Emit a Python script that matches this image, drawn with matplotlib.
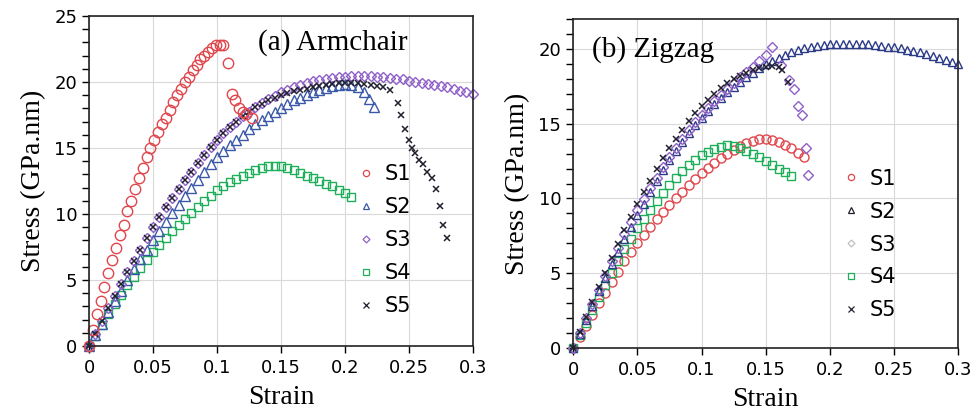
import numpy as np
import matplotlib
matplotlib.use("Agg")
import matplotlib.pyplot as plt
from matplotlib.ticker import MultipleLocator, FuncFormatter
from matplotlib.lines import Line2D

STEP = 0.005      # strain increment of the sampled curves
STEP_S1A = 0.003  # armchair S1 is sampled finer

# ---- (a) Armchair ----
arm_s1 = [0, 1.2, 2.4, 3.4, 4.5, 5.5, 6.5, 7.4, 8.4, 9.2, 10.2, 11.0, 11.9, 12.7, 13.5,
          14.3, 15.0, 15.6, 16.2, 16.8, 17.3, 17.9, 18.5, 19.0, 19.5, 20.0, 20.4, 20.9,
          21.3, 21.7, 22.0, 22.3, 22.6, 22.8, 22.8, 22.8]
arm_s1_tail_x = [0.109, 0.112, 0.114, 0.117, 0.120, 0.123, 0.127]
arm_s1_tail_y = [21.4, 19.1, 18.6, 18.0, 17.7, 17.6, 17.3]

arm_s2 = [0, 0.85, 1.7, 2.55, 3.4, 4.2, 5.0, 5.8, 6.6, 7.3, 8.0, 8.7, 9.4, 10.05, 10.7,
          11.35, 12.0, 12.6, 13.2, 13.75, 14.3, 14.75, 15.2, 15.6, 16.0, 16.4, 16.8, 17.1,
          17.4, 17.7, 18.0, 18.3, 18.6, 18.8, 19.0, 19.2, 19.4, 19.55, 19.7, 19.8, 19.85]
arm_s2_tail_x = [0.205, 0.21, 0.215, 0.219, 0.223]
arm_s2_tail_y = [19.8, 19.6, 19.2, 18.7, 18.1]

arm_s3 = [0, 0.95, 1.9, 2.85, 3.8, 4.7, 5.6, 6.45, 7.3, 8.15, 9.0, 9.75, 10.5, 11.2, 11.9,
          12.55, 13.2, 13.85, 14.5, 15.05, 15.6, 16.1, 16.6, 17.0, 17.4, 17.75, 18.1, 18.4,
          18.7, 18.95, 19.2, 19.4, 19.6, 19.75, 19.9, 20.05, 20.15, 20.25, 20.3, 20.35,
          20.4, 20.45, 20.45, 20.45, 20.45, 20.4, 20.4, 20.3, 20.25, 20.2, 20.1, 20.0,
          19.95, 19.85, 19.8, 19.7, 19.6, 19.5, 19.35, 19.25, 19.1]

arm_s4 = [0, 0.8, 1.6, 2.4, 3.2, 3.9, 4.6, 5.25, 5.9, 6.5, 7.1, 7.65, 8.2, 8.7, 9.2, 9.65,
          10.1, 10.55, 11.0, 11.4, 11.8, 12.1, 12.4, 12.65, 12.9, 13.1, 13.3, 13.45, 13.6,
          13.65, 13.6, 13.45, 13.3, 13.1, 12.9, 12.7, 12.5, 12.3, 12.1, 11.85, 11.6, 11.3]

arm_s5 = [0, 0.95, 1.9, 2.85, 3.8, 4.7, 5.6, 6.45, 7.3, 8.15, 9.0, 9.75, 10.5, 11.2, 11.9,
          12.55, 13.2, 13.85, 14.5, 15.05, 15.6, 16.1, 16.6, 17.0, 17.4, 17.75, 18.1, 18.35,
          18.6, 18.8, 19.0, 19.15, 19.3, 19.4, 19.5, 19.6, 19.7, 19.8, 19.85, 19.9, 19.9,
          19.9, 19.9, 19.85, 19.8, 19.7, 19.6, 19.4]
arm_s5_tail_x = [0.2415, 0.244, 0.247, 0.25, 0.2525, 0.255, 0.258, 0.261, 0.2645, 0.268,
                 0.271, 0.274, 0.2765, 0.2795]
arm_s5_tail_y = [18.4, 17.5, 16.4, 15.6, 15.0, 14.6, 14.1, 13.8, 13.2, 12.7, 11.9, 10.6,
                 9.2, 8.2]

# ---- (b) Zigzag ----
zig_s1 = [0, 0.75, 1.5, 2.25, 3.0, 3.7, 4.4, 5.1, 5.8, 6.4, 7.0, 7.55, 8.1, 8.6, 9.1, 9.55,
          10.0, 10.45, 10.9, 11.3, 11.7, 12.05, 12.4, 12.7, 13.0, 13.25, 13.5, 13.7, 13.85,
          14.0, 14.0, 13.9, 13.75, 13.55, 13.35, 13.05, 12.75]

zig_s2 = [0, 0.95, 1.9, 2.85, 3.8, 4.7, 5.6, 6.45, 7.3, 8.1, 8.9, 9.65, 10.4, 11.15, 11.9,
          12.55, 13.2, 13.8, 14.4, 14.9, 15.4, 15.85, 16.3, 16.7, 17.1, 17.45, 17.8, 18.1,
          18.4, 18.7, 18.95, 19.2, 19.4, 19.6, 19.8, 19.95, 20.05, 20.15, 20.2, 20.25, 20.3,
          20.33, 20.35, 20.35, 20.35, 20.33, 20.3, 20.25, 20.2, 20.15, 20.1, 20.03, 19.95,
          19.85, 19.75, 19.63, 19.5, 19.38, 19.25, 19.1, 18.95]

zig_s3 = [0, 1.0, 2.0, 2.95, 3.9, 4.85, 5.8, 6.7, 7.6, 8.4, 9.2, 9.95, 10.7, 11.4, 12.1,
          12.75, 13.4, 14.0, 14.6, 15.1, 15.6, 16.05, 16.5, 16.9, 17.3, 17.7, 18.1, 18.45,
          18.8, 19.2, 19.6, 20.1]
zig_s3_tail_x = [0.162, 0.168, 0.172, 0.175, 0.178, 0.181, 0.183]
zig_s3_tail_y = [18.9, 17.9, 17.3, 16.2, 15.6, 13.4, 11.6]

zig_s4 = [0, 0.85, 1.7, 2.55, 3.4, 4.2, 5.0, 5.8, 6.6, 7.3, 8.0, 8.6, 9.2, 9.8, 10.35, 10.9,
          11.4, 11.85, 12.25, 12.6, 12.9, 13.1, 13.3, 13.45, 13.55, 13.5, 13.4, 13.2, 13.0,
          12.75, 12.5, 12.25, 12.0, 11.75, 11.5]

zig_s5 = [0, 1.05, 2.1, 3.1, 4.1, 5.05, 6.0, 6.95, 7.9, 8.75, 9.6, 10.4, 11.2, 11.95, 12.7,
          13.35, 14.0, 14.6, 15.2, 15.7, 16.2, 16.6, 17.0, 17.35, 17.7, 17.95, 18.2, 18.4,
          18.6, 18.7, 18.8, 18.85, 18.8]
zig_s5_tail_x = [0.163, 0.167]
zig_s5_tail_y = [18.6, 17.8]

labels = ["S1", "S2", "S3", "S4", "S5"]
RED = "#e0474c"
BLUE = "#3a58a8"
NAVY = "#2b3a88"
PURPLE = "#9060c8"
GREEN = "#1fae5a"
BLACK = "#20202e"


def series(y, step=STEP, tail_x=(), tail_y=()):
    x = np.arange(len(y)) * step
    return np.r_[x, tail_x], np.r_[y, tail_y]


def style_axes(ax, ymax):
    ax.set_xlim(0, 0.3)
    ax.set_ylim(0, ymax)
    ax.xaxis.set_major_locator(MultipleLocator(0.05))
    ax.yaxis.set_major_locator(MultipleLocator(5))
    ax.yaxis.set_minor_locator(MultipleLocator(1))
    ax.xaxis.set_major_formatter(FuncFormatter(lambda v, p: "%g" % round(v, 3)))
    ax.grid(True, which="major", color="#d9d9d9", linewidth=0.8)
    ax.set_axisbelow(True)
    ax.tick_params(which="both", direction="out", length=5, width=1.0, labelsize=13)
    ax.tick_params(axis="x", pad=4)
    for sp in ax.spines.values():
        sp.set_linewidth(1.2)
        sp.set_color("#222222")
    ax.set_xlabel("Strain", family="Liberation Serif", fontsize=20, labelpad=6)
    ax.set_ylabel("Stress (GPa.nm)", family="Liberation Serif", fontsize=20, labelpad=6)


def draw(ax, x, y, marker, color, size, mew=1.0):
    ax.plot(x, y, linestyle="none", marker=marker, markersize=size,
            markerfacecolor="none", markeredgecolor=color, markeredgewidth=mew,
            clip_on=False)


def add_legend(ax, specs, anchor):
    handles = [Line2D([], [], linestyle="none", marker=m, markersize=s,
                      markerfacecolor="none", markeredgecolor=c, markeredgewidth=0.9)
               for m, c, s in specs]
    ax.legend(handles, labels, loc="upper left", bbox_to_anchor=anchor, frameon=False,
              fontsize=15, labelspacing=0.62, handlelength=0.8, handletextpad=0.5,
              borderpad=0, borderaxespad=0)


fig = plt.figure(figsize=(9.73, 4.18), dpi=100)
ax1 = fig.add_axes([0.0915, 0.172, 0.3945, 0.79])
ax2 = fig.add_axes([0.589, 0.167, 0.396, 0.788])

# (a) Armchair
draw(ax1, *series(arm_s4), "s", GREEN, 6)
draw(ax1, *series(arm_s2, tail_x=arm_s2_tail_x, tail_y=arm_s2_tail_y), "^", BLUE, 6.5)
draw(ax1, *series(arm_s3), "D", PURPLE, 5)
draw(ax1, *series(arm_s5, tail_x=arm_s5_tail_x, tail_y=arm_s5_tail_y), "x", BLACK, 4.5, 1.1)
draw(ax1, *series(arm_s1, STEP_S1A, arm_s1_tail_x, arm_s1_tail_y), "o", RED, 7.5)
style_axes(ax1, 25)
ax1.text(0.44, 0.918, "(a) Armchair", transform=ax1.transAxes, va="center",
         family="Liberation Serif", fontsize=21)
add_legend(ax1, [("o", RED, 4.5), ("^", BLUE, 4.5), ("D", PURPLE, 3.5),
                 ("s", GREEN, 4), ("x", BLACK, 4)], (0.70, 0.55))

# (b) Zigzag
draw(ax2, *series(zig_s1), "o", RED, 6.5)
draw(ax2, *series(zig_s4), "s", GREEN, 6)
draw(ax2, *series(zig_s2), "^", NAVY, 6)
draw(ax2, *series(zig_s3, tail_x=zig_s3_tail_x, tail_y=zig_s3_tail_y), "D", PURPLE, 4.8)
draw(ax2, *series(zig_s5, tail_x=zig_s5_tail_x, tail_y=zig_s5_tail_y), "x", BLACK, 4.5, 1.1)
style_axes(ax2, 22)
ax2.text(0.05, 0.906, "(b) Zigzag", transform=ax2.transAxes, va="center",
         family="Liberation Serif", fontsize=21)
add_legend(ax2, [("o", RED, 4.5), ("^", BLACK, 4), ("D", "#c0c0c0", 3.5),
                 ("s", GREEN, 4), ("x", BLACK, 4)], (0.70, 0.545))

fig.savefig("out.png", dpi=100)
